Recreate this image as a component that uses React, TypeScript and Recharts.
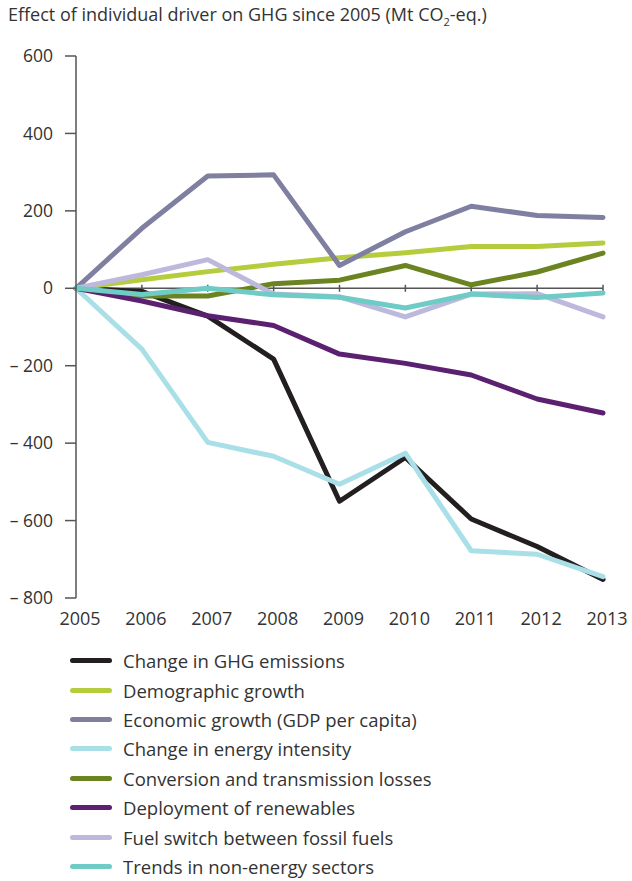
import React from 'react';
import { LineChart, Line, XAxis, YAxis, ReferenceLine } from 'recharts';

const years = ['2005', '2006', '2007', '2008', '2009', '2010', '2011', '2012', '2013'];

const ghgChange = [0, -8, -72, -183, -550, -437, -596, -667, -752];
const demographic = [0, 22, 43, 62, 79, 92, 108, 108, 117];
const economic = [0, 155, 290, 293, 59, 146, 212, 188, 183];
const energyIntensity = [0, -157, -398, -434, -506, -426, -678, -687, -745];
const conversionLosses = [0, -20, -20, 12, 21, 59, 9, 42, 91];
const renewables = [0, -33, -71, -96, -170, -194, -224, -286, -322];
const fuelSwitch = [0, 35, 74, -15, -22, -74, -15, -14, -74];
const nonEnergy = [0, -16, 0, -17, -23, -51, -15, -24, -12];

const yTicks = [-800, -600, -400, -200, 0, 200, 400, 600];

const series = [
  { key: 'ghg', name: 'Change in GHG emissions', values: ghgChange, color: '#231f20' },
  { key: 'demo', name: 'Demographic growth', values: demographic, color: '#b5cc3d' },
  { key: 'econ', name: 'Economic growth (GDP per capita)', values: economic, color: '#7f7fa1' },
  { key: 'intensity', name: 'Change in energy intensity', values: energyIntensity, color: '#a9dfe6' },
  { key: 'conv', name: 'Conversion and transmission losses', values: conversionLosses, color: '#6b8421' },
  { key: 'renew', name: 'Deployment of renewables', values: renewables, color: '#5b2170' },
  { key: 'fuel', name: 'Fuel switch between fossil fuels', values: fuelSwitch, color: '#bcb9dd' },
  { key: 'nonenergy', name: 'Trends in non-energy sectors', values: nonEnergy, color: '#6ecbc5' },
];

const data = years.map((year, i) => {
  const row: Record<string, string | number> = { year };
  series.forEach((s) => {
    row[s.key] = s.values[i];
  });
  return row;
});

const font = '"Open Sans", "Noto Sans", sans-serif';
const axisColor = '#555';

const fmt = (v: number) => (v < 0 ? `\u2013 ${-v}` : `${v}`);

export default function App() {
  return (
    <div style={{ position: 'absolute', left: 0, top: 0, width: 632, height: 881, background: '#fff', fontFamily: font }}>
      <div style={{ position: 'absolute', left: 8, top: 2, fontSize: 18, lineHeight: '24px', color: '#333', whiteSpace: 'nowrap' }}>
        Effect of individual driver on GHG since 2005 (Mt CO<sub style={{ fontSize: 11, lineHeight: 0 }}>2</sub>-eq.)
      </div>
      <LineChart
        width={632}
        height={881}
        data={data}
        margin={{ top: 56, right: 29, left: 0, bottom: 253 }}
      >
        <XAxis
          dataKey="year"
          height={30}
          axisLine={false}
          tickLine={false}
          tickMargin={8}
          tick={{ fill: '#333', fontSize: 18, fontFamily: font, dx: 4 }}
          interval={0}
        />
        <YAxis
          width={76}
          domain={[-800, 600]}
          ticks={yTicks}
          tickFormatter={fmt}
          tickSize={11}
          tickMargin={12}
          axisLine={{ stroke: axisColor, strokeWidth: 1.5 }}
          tickLine={{ stroke: axisColor, strokeWidth: 1.5 }}
          tick={{ fill: '#333', fontSize: 17.5, fontFamily: font }}
          interval={0}
        />
        <ReferenceLine y={0} stroke={axisColor} strokeWidth={1.5} />
        {years.slice(1).map((y) => (
          <ReferenceLine
            key={`t-${y}`}
            segment={[{ x: y, y: -9 }, { x: y, y: 9 }]}
            stroke={axisColor}
            strokeWidth={1.5}
          />
        ))}
        {series.map((s) => (
          <Line
            key={s.key}
            dataKey={s.key}
            name={s.name}
            type="linear"
            stroke={s.color}
            strokeWidth={5}
            strokeLinecap="round"
            strokeLinejoin="round"
            dot={false}
            activeDot={false}
            isAnimationActive={false}
          />
        ))}
      </LineChart>
      <div style={{ position: 'absolute', left: 70, top: 646 }}>
        {series.map((s) => (
          <div key={s.key} style={{ display: 'flex', alignItems: 'center', height: 29.4 }}>
            <div style={{ width: 42, height: 5, borderRadius: 3, background: s.color, marginRight: 11 }} />
            <span style={{ fontSize: 18.5, color: '#333', whiteSpace: 'nowrap' }}>{s.name}</span>
          </div>
        ))}
      </div>
    </div>
  );
}
